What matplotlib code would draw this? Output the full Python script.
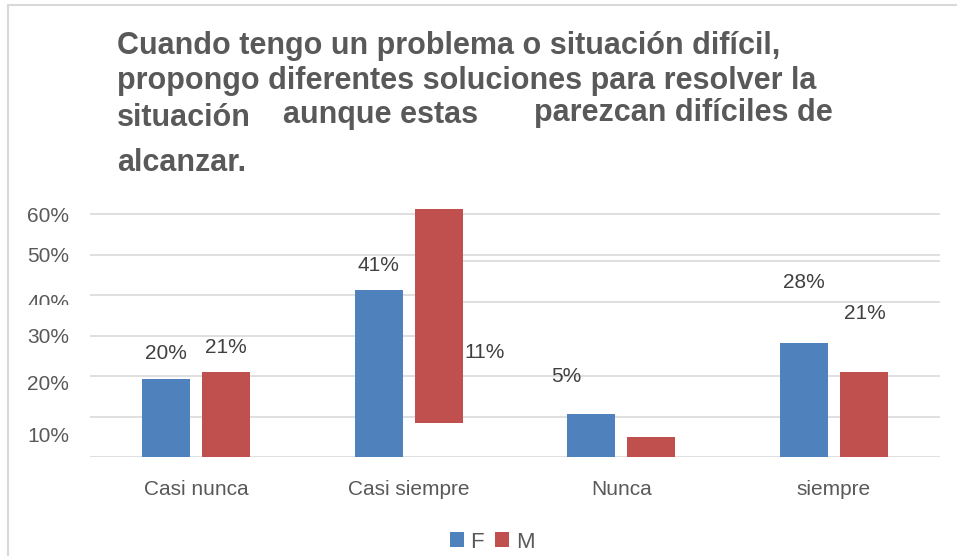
"""
barras F / M por categoria, copia del grafico de la encuesta
"""

import numpy as np
import matplotlib.pyplot as plt
from matplotlib.patches import Rectangle
from matplotlib.transforms import Bbox, TransformedBbox

plt.rcParams['font.family'] = ['Liberation Sans', 'DejaVu Sans']

categorias = ['Casi nunca', 'Casi siempre', 'Nunca', 'siempre']
f_vals = [19.3, 41.3, 10.7, 28.2]
m_vals = [21.0, 61.2, 5.0, 21.0]
m_base = [0, 8.5, 0, 0]

# etiquetas tal como salen en la imagen (serie, categoria, texto)
etiq_serie = ['F', 'M', 'F', 'M', 'F', 'F', 'M']
etiq_cat = [0, 0, 1, 1, 2, 3, 3]
etiq_txt = ['20%', '21%', '41%', '11%', '5%', '28%', '21%']

ytick_pos = [60, 50, 38.5, 30, 18.5, 5.5]
ytick_txt = ['60%', '50%', '40%', '30%', '20%', '10%']

azul = '#4F81BD'
rojo = '#C0504D'
gris = '#595959'
rejilla = '#d9d9d9'

W, H = 957, 556
fig = plt.figure(figsize=(W / 100, H / 100), dpi=100)
ax = fig.add_axes([90 / W, (H - 457.3) / H, 850 / W, 259.5 / H])

x = np.arange(len(categorias))
ancho = 0.226
sep = 0.141

bf = ax.bar(x - sep, f_vals, ancho, color=azul, zorder=3)
bm = ax.bar(x + sep, np.array(m_vals) - np.array(m_base), ancho,
            bottom=m_base, color=rojo, zorder=3)

# rejilla (en la imagen las lineas de 30 y 40 se cortan a la derecha)
corte = 1.25
for y in [0, 10, 20, 50, 60]:
    ax.hlines(y, -0.5, 3.5, color=rejilla, lw=1.2, zorder=1)
for y in [30, 40]:
    ax.hlines(y, -0.5, corte, color=rejilla, lw=1.2, zorder=1)
for y in [38.3, 48.4]:
    ax.hlines(y, corte, 3.5, color=rejilla, lw=1.2, zorder=1)

# etiquetas de datos, desplazadas como en el original (pixeles)
desp = [(0, 26), (0, 25), (0, 24), (46, -143), (-25, 37), (0, 60), (1, 59)]
for s, c, t, (dx, dy) in zip(etiq_serie, etiq_cat, etiq_txt, desp):
    if s == 'F':
        xb, yb = x[c] - sep, f_vals[c]
    else:
        xb, yb = x[c] + sep, m_vals[c]
    ax.annotate(t, (xb, yb), xytext=(dx, dy), textcoords='offset pixels',
                ha='center', va='center', fontsize=15, color='#404040')

ax.set_xlim(-0.5, 3.5)
ax.set_ylim(0, 64)
ax.set_xticks(x, categorias)
ax.set_yticks(ytick_pos, ytick_txt)
ax.tick_params(axis='x', length=0, pad=16, labelsize=15, labelcolor=gris)
ax.tick_params(axis='y', length=0, pad=15, labelsize=15, labelcolor=gris)
for sp in ax.spines.values():
    sp.set_visible(False)

# el "40%" sale cortado por abajo
lab40 = ax.yaxis.get_major_ticks()[2].label1
lab40.set_clip_on(True)
lab40.set_clip_box(TransformedBbox(Bbox([[0, (H - 305) / H], [90 / W, 1]]), fig.transFigure))

# titulo, linea por linea
tit = dict(fontsize=22, fontweight='bold', color=gris, va='baseline')
fig.text(117 / W, 1 - 54 / H, 'Cuando tengo un problema o situación difícil,', **tit)
fig.text(117 / W, 1 - 89 / H, 'propongo diferentes soluciones para resolver la', **tit)
# franja blanca que corta los rabos de la segunda linea
fig.patches.append(Rectangle((105 / W, 1 - 104 / H), 760 / W, 7 / H, transform=fig.transFigure,
                             facecolor='white', edgecolor='none', zorder=3.5))
fig.text(117 / W, 1 - 126 / H, 'situación', zorder=4, **tit)
fig.text(381 / W, 1 - 123 / H, 'aunque estas', ha='center', zorder=4, **tit)
fig.text(683 / W, 1 - 121 / H, 'parezcan difíciles de', ha='center', zorder=4, **tit)
fig.text(117 / W, 1 - 171 / H, 'alcanzar.', **tit)

fig.legend([bf, bm], ['F', 'M'], loc='center', bbox_to_anchor=(492 / W, 1 - 542 / H),
           ncol=2, frameon=False, fontsize=16, labelcolor=gris,
           handlelength=0.63, handleheight=0.63, handletextpad=0.3, columnspacing=0.5)

fig.patches.append(Rectangle((8 / W, -0.1), 1.2, 1.1 - 5 / H, transform=fig.transFigure,
                             fill=False, edgecolor=rejilla, lw=1.5))

fig.savefig('out.png', dpi=100)
